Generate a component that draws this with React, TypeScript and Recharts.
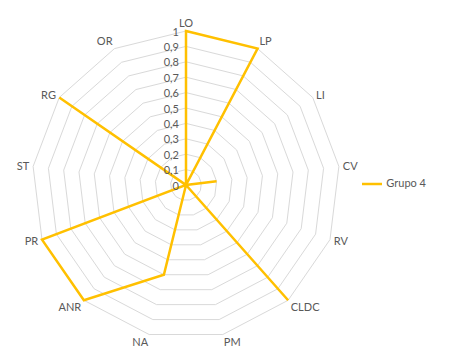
import React from 'react';
import { RadarChart, Radar, PolarGrid, PolarAngleAxis, PolarRadiusAxis, Legend } from 'recharts';

const categories = ['LO', 'LP', 'LI', 'CV', 'RV', 'CLDC', 'PM', 'NA', 'ANR', 'PR', 'ST', 'RG', 'OR'];
const grupo4 = [1, 1, 0, 0.2, 0, 1, 0, 0.6, 1, 1, 0, 1, 0];
const radiusTicks = [0, 0.1, 0.2, 0.3, 0.4, 0.5, 0.6, 0.7, 0.8, 0.9, 1];

const data = categories.map((c, i) => ({ cat: c, value: grupo4[i] }));

const FONT = 'Lato, "Open Sans", sans-serif';

// radius labels sit left of the (hidden) vertical axis, centred on each ring
const RadiusTick = (props: any) => {
    const { x, y, payload } = props;
    return (
        <text
            x={x - 7}
            y={y}
            textAnchor="end"
            dominantBaseline="central"
            fill="#595959"
            fontSize={11}
            fontFamily={FONT}
        >
            {String(payload.value).replace('.', ',')}
        </text>
    );
};

export default function App() {
    return (
        <div style={{ position: 'absolute', left: 0, top: 0, width: 450, height: 363, background: '#fff' }}>
            <RadarChart
                width={450}
                height={363}
                data={data}
                cx={186}
                cy={185}
                outerRadius={154}
                startAngle={90}
                endAngle={-270}
                margin={{ top: 0, right: 0, bottom: 0, left: 0 }}
            >
                <PolarGrid gridType="polygon" radialLines={false} stroke="#d9d9d9" />
                <PolarAngleAxis
                    dataKey="cat"
                    tickLine={false}
                    axisLine={false}
                    tickSize={4}
                    tick={{ fill: '#595959', fontSize: 11, fontFamily: FONT }}
                />
                <PolarRadiusAxis
                    angle={90}
                    domain={[0, 1]}
                    ticks={radiusTicks}
                    axisLine={false}
                    tickLine={false}
                    tick={<RadiusTick />}
                />
                <Radar
                    name="Grupo 4"
                    dataKey="value"
                    stroke="#FFC000"
                    strokeWidth={2.5}
                    fill="none"
                    fillOpacity={0}
                    dot={false}
                    isAnimationActive={false}
                />
                <Legend
                    layout="vertical"
                    align="right"
                    verticalAlign="middle"
                    iconType="plainline"
                    iconSize={20}
                    wrapperStyle={{ right: 14, top: 174, fontFamily: FONT, fontSize: 11 }}
                    formatter={(v: string) => <span style={{ color: '#595959' }}>{v}</span>}
                />
            </RadarChart>
        </div>
    );
}
